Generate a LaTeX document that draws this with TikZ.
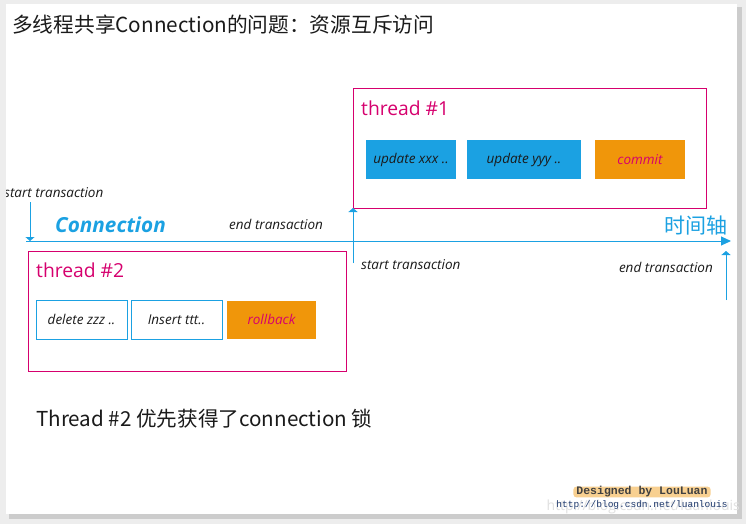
\documentclass[tikz,border=0pt]{standalone}
\usepackage{fontspec}
\setmainfont{Open Sans}
\newfontfamily\cjkfont{Noto Sans CJK SC}
\newfontfamily\monofont{Liberation Mono}
\usetikzlibrary{arrows.meta,positioning}
\definecolor{lineblue}{HTML}{1BA1E2}
\definecolor{rosered}{HTML}{D6006E}
\definecolor{amber}{HTML}{F0960A}
\definecolor{ink}{HTML}{1A1A1A}
\definecolor{urlblue}{HTML}{1F3A6E}
\tikzset{
    threadbox/.style={draw=rosered,line width=1pt,anchor=north west,
      inner sep=0pt,outer sep=0pt},
    threadlabel/.style={text=rosered,font=\fontsize{19.3}{22}\selectfont,
      inner sep=0pt,anchor=base west},
    stepbox/.style={minimum height=39pt,inner sep=0pt,outer sep=0pt,
      font=\fontsize{13.5}{15}\selectfont\itshape,text=ink,anchor=north west},
    bluestep/.style={stepbox,fill=lineblue},
    openstep/.style={stepbox,draw=lineblue,line width=0.9pt,fill=white},
    endstep/.style={stepbox,fill=amber,text=rosered},
    flowarrow/.style={draw=lineblue,line width=1pt,
      -{Triangle[length=4pt,width=9pt]}},
    axisarrow/.style={draw=lineblue,line width=1pt,
      -{Triangle[length=10pt,width=9pt]}},
    notelabel/.style={font=\fontsize{13.5}{15}\selectfont\itshape,text=ink,
      inner sep=0pt,anchor=base west},
    cjktext/.style={font=\cjkfont\fontsize{20.7}{24}\selectfont,text=ink,
      inner sep=0pt,anchor=base west}
}
\begin{document}
\begin{tikzpicture}[x=1pt,y=-1pt]
  % window and its shadow
  \fill[black!7] (0,0) rectangle (746,524);
  \fill[black!20] (9,7) rectangle (742,519);
  \fill[white] (6,4) rectangle (737,514);
  \useasboundingbox (0,0) rectangle (746,524);
  \node[cjktext] (title) at (12,33) {多线程共享Connection的问题：资源互斥访问};
  % thread #1
  \node[threadbox,minimum width=353pt,minimum height=119pt] (t1) at (353,89) {};
  \node[threadlabel] (t1name) at (361,115) {thread \#1};
  \node[bluestep,minimum width=90pt] (upx) at (366,140) {update xxx ..};
  \node[bluestep,minimum width=114pt,right=11pt of upx] (upy) {update yyy ..};
  \node[endstep,minimum width=90pt,right=14pt of upy] (commit) {commit};
  % time axis
  \coordinate (axisL) at (26,241);
  \coordinate (axisR) at (731,241);
  \draw[axisarrow] (axisL) -- (axisR);
  \node[cjktext,text=lineblue,font=\cjkfont\fontsize{21}{24}\selectfont,
    anchor=base east] (axisname) at (728,233) {时间轴};
  \node[font=\fontsize{20.7}{24}\selectfont\bfseries\itshape,text=lineblue,
    inner sep=0pt,anchor=base west] (conn) at (55,232) {Connection};
  \node[notelabel] (st1) at (4,197) {start transaction};
  \coordinate (st1foot) at (30,202);
  \draw[flowarrow] (st1foot) -- (st1foot |- axisL);
  \node[notelabel] (et1) at (229,229) {end transaction};
  \coordinate (st2foot) at (353,263);
  \draw[flowarrow] (st2foot) -- (t1.south west);
  \node[notelabel] (st2) at (361,269) {start transaction};
  \node[notelabel,anchor=base east] (et2) at (713,272) {end transaction};
  \coordinate (et2foot) at (726,300);
  \coordinate (et2tip) at (726,251);
  \draw[flowarrow] (et2foot) -- (et2tip);
  % thread #2
  \node[threadbox,minimum width=318pt,minimum height=120pt] (t2) at (28,251) {};
  \node[threadlabel] (t2name) at (36,277) {thread \#2};
  \node[openstep,minimum width=91pt] (delz) at (36,300) {delete zzz ..};
  \node[openstep,minimum width=91pt,right=4pt of delz] (inst) {Insert ttt..};
  \node[endstep,minimum width=89pt,minimum height=38pt,right=5pt of inst] (rollback) {rollback};
  \node[cjktext,font=\cjkfont\fontsize{20.6}{24}\selectfont] (verdict) at (36,426)
    {Thread \#2 优先获得了connection 锁};
  % signature
  \node[text=black!12,font=\fontsize{14}{16}\selectfont,inner sep=0pt,
    anchor=base east] (wmark) at (740,510) {http://blog.csdn.net/luanlouis};
  \node[fill=amber!45,rounded corners=3pt,inner xsep=3pt,inner ysep=0pt,
    font=\monofont\bfseries\fontsize{11.5}{13}\selectfont,text=black!75] (designer)
    at (642,492) {Designed by LouLuan};
  \node[font=\monofont\fontsize{9.5}{11}\selectfont,text=urlblue,inner sep=0pt,
    below=3pt of designer] (url) {http://blog.csdn.net/luanlouis};
  % left edge of the window over the text
  \fill[black!7] (0,0) rectangle (6,524);
\end{tikzpicture}
\end{document}
